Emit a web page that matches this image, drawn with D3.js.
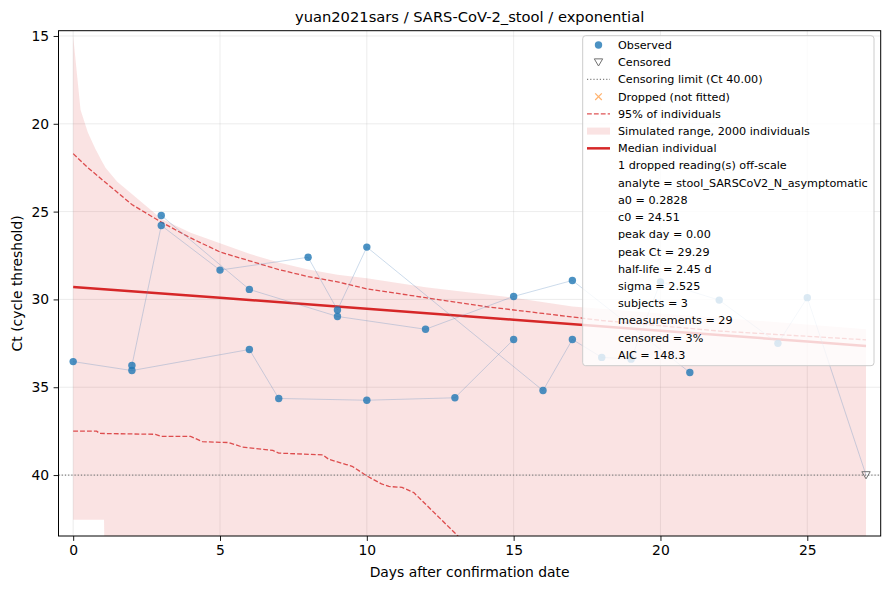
<!DOCTYPE html>
<html>
<head>
<meta charset="utf-8">
<script src="https://cdn.jsdelivr.net/npm/d3@7"></script>
<style>
  body { margin: 0; background: #fff; }
  text { font-family: "DejaVu Sans", sans-serif; fill: #000; }
</style>
</head>
<body>
<script>
// chart values
var subjA_day = [0, 2, 6, 7, 10, 13, 15]
var subjA_ct  = [33.54, 34.05, 32.85, 35.64, 35.74, 35.6, 32.28]
var subjB_day = [2, 3, 5, 8, 9, 10, 16, 17, 18, 19, 20, 22, 24, 25]
var subjB_ct  = [33.76, 25.79, 28.33, 27.6, 30.6, 27.02, 35.19, 32.28, 33.3, 33.4, 29.0, 30.04, 32.5, 29.9]
var subjC_day = [3, 6, 9, 12, 15, 17, 21]
var subjC_ct  = [25.22, 29.43, 30.97, 31.7, 29.83, 28.92, 34.16]
var cens_day  = [27]
var cens_ct   = [40]
var censLimit = 40

// simulated range (upper edge = low Ct, lower edge = high Ct)
var band_day   = [0, 0.25, 0.5, 0.75, 1, 1.05, 1.1, 1.5, 2, 3, 4, 5, 6, 7, 8, 9, 10, 12, 15, 17, 20, 24, 27]
var band_upper = [15.0, 19.2, 20.5, 21.4, 22.2, 22.35, 22.5, 23.3, 24.0, 25.4, 26.2, 26.8, 27.4, 27.9, 28.3, 28.6, 28.8, 29.3, 29.9, 30.4, 30.8, 31.3, 31.7]
var band_lower = [42.55, 42.55, 42.55, 42.55, 42.55, 42.55, 48, 48, 48, 48, 48, 48, 48, 48, 48, 48, 48, 48, 48, 48, 48, 48, 48]

// 95% of individuals
var hi95_day = [0, 0.5, 1, 1.5, 2, 2.5, 3, 4, 5, 6, 7, 8, 9, 10, 12, 14, 16, 18, 20, 22, 24, 27]
var hi95_ct  = [21.7, 22.5, 23.2, 23.9, 24.6, 25.1, 25.6, 26.5, 27.3, 27.8, 28.3, 28.7, 29.0, 29.4, 29.9, 30.4, 30.8, 31.2, 31.5, 31.8, 32.0, 32.3]
var lo95_day = [0, 0.8, 0.9, 2.8, 3.0, 4.0, 4.4, 5.3, 5.75, 6.8, 7.0, 8.5, 8.7, 9.3, 9.5, 10.0, 10.5, 10.75, 11.2, 11.6, 13.0, 14.0]
var lo95_ct  = [37.5, 37.5, 37.63, 37.68, 37.8, 37.8, 38.1, 38.15, 38.4, 38.6, 38.75, 38.85, 39.1, 39.4, 39.5, 40.05, 40.5, 40.65, 40.7, 41.0, 43.3, 45]

// median individual
var med_day = [0, 5, 10, 15, 20, 25, 27]
var med_ct  = [29.29, 29.91, 30.53, 31.16, 31.78, 32.40, 32.65]

var xTicks = [0, 5, 10, 15, 20, 25]
var yTicks = [15, 20, 25, 30, 35, 40]

var legendRows = [
  ["obs", "Observed"],
  ["cens", "Censored"],
  ["limit", "Censoring limit (Ct 40.00)"],
  ["drop", "Dropped (not fitted)"],
  ["dash", "95% of individuals"],
  ["band", "Simulated range, 2000 individuals"],
  ["median", "Median individual"],
  ["", "1 dropped reading(s) off-scale"],
  ["", "analyte = stool_SARSCoV2_N_asymptomatic"],
  ["", "a0 = 0.2828"],
  ["", "c0 = 24.51"],
  ["", "peak day = 0.00"],
  ["", "peak Ct = 29.29"],
  ["", "half-life = 2.45 d"],
  ["", "sigma = 2.525"],
  ["", "subjects = 3"],
  ["", "measurements = 29"],
  ["", "censored = 3%"],
  ["", "AIC = 148.3"]
]

var width = 890
var height = 590
var pLeft = 58.5, pRight = 880.7, pTop = 30.7, pBottom = 536

var red = "#d62728"
var blue = "#1f77b4"

var x = d3.scaleLinear().domain([-0.5, 27.5]).range([pLeft, pRight])
var y = d3.scaleLinear().domain([14.7, 43.47]).range([pTop, pBottom])

var svg = d3.select("body")
  .append("svg")
  .attr("width", width)
  .attr("height", height)

svg.append("defs").append("clipPath")
  .attr("id", "plotclip")
  .append("rect")
  .attr("x", pLeft).attr("y", pTop)
  .attr("width", pRight - pLeft).attr("height", pBottom - pTop)

// grid
var grid = svg.append("g")
grid.selectAll(".gx").data(xTicks).enter().append("line")
  .attr("x1", d => x(d)).attr("x2", d => x(d))
  .attr("y1", pTop).attr("y2", pBottom)
  .style("stroke", "#b0b0b0").style("stroke-opacity", 0.3).style("stroke-width", 0.8)
grid.selectAll(".gy").data(yTicks).enter().append("line")
  .attr("x1", pLeft).attr("x2", pRight)
  .attr("y1", d => y(d)).attr("y2", d => y(d))
  .style("stroke", "#b0b0b0").style("stroke-opacity", 0.3).style("stroke-width", 0.8)

var plot = svg.append("g").attr("clip-path", "url(#plotclip)")

// simulated band
var area = d3.area()
  .x(d => x(d[0]))
  .y0(d => y(d[2]))
  .y1(d => y(d[1]))
plot.append("path")
  .datum(d3.zip(band_day, band_upper, band_lower))
  .attr("d", area)
  .style("fill", red).style("fill-opacity", 0.13)

var line = d3.line().x(d => x(d[0])).y(d => y(d[1]))

// 95% dashed lines
plot.append("path")
  .datum(d3.zip(hi95_day, hi95_ct))
  .attr("d", line)
  .style("fill", "none").style("stroke", red).style("stroke-opacity", 0.8)
  .style("stroke-width", 1.3).style("stroke-dasharray", "4.8,2.1")
plot.append("path")
  .datum(d3.zip(lo95_day, lo95_ct))
  .attr("d", line)
  .style("fill", "none").style("stroke", red).style("stroke-opacity", 0.8)
  .style("stroke-width", 1.3).style("stroke-dasharray", "4.8,2.1")

// median
plot.append("path")
  .datum(d3.zip(med_day, med_ct))
  .attr("d", line)
  .style("fill", "none").style("stroke", red).style("stroke-width", 2.5)

// censoring limit
plot.append("line")
  .attr("x1", pLeft).attr("x2", pRight)
  .attr("y1", y(censLimit)).attr("y2", y(censLimit))
  .style("stroke", "#808080").style("stroke-width", 1.2)
  .style("stroke-dasharray", "1.2,2")

// subject trajectories
var subjects = [
  d3.zip(subjA_day, subjA_ct),
  d3.zip(subjB_day, subjB_ct).concat(d3.zip(cens_day, cens_ct)),
  d3.zip(subjC_day, subjC_ct)
]
plot.selectAll(".traj").data(subjects).enter().append("path")
  .attr("d", line)
  .style("fill", "none").style("stroke", "#5b8cc0").style("stroke-opacity", 0.35)
  .style("stroke-width", 0.9)

var observed = d3.zip(subjA_day, subjA_ct)
  .concat(d3.zip(subjB_day, subjB_ct))
  .concat(d3.zip(subjC_day, subjC_ct))
plot.selectAll(".obs").data(observed).enter().append("circle")
  .attr("cx", d => x(d[0])).attr("cy", d => y(d[1]))
  .attr("r", 3.7)
  .style("fill", blue).style("fill-opacity", 0.8)

function triDown(cx, cy, s) {
  return "M" + (cx - s) + "," + (cy - s * 0.8) + "L" + (cx + s) + "," + (cy - s * 0.8) + "L" + cx + "," + (cy + s * 0.9) + "Z"
}
svg.selectAll(".cens").data(d3.zip(cens_day, cens_ct)).enter().append("path")
  .attr("d", d => triDown(x(d[0]), y(d[1]), 4.2))
  .style("fill", "none").style("stroke", "#707070").style("stroke-width", 1)

// axes frame
svg.append("rect")
  .attr("x", pLeft).attr("y", pTop)
  .attr("width", pRight - pLeft).attr("height", pBottom - pTop)
  .style("fill", "none").style("stroke", "#000").style("stroke-width", 1)

var xAxis = svg.append("g")
  .attr("transform", "translate(0," + pBottom + ")")
  .call(d3.axisBottom(x).tickValues(xTicks).tickSize(4.9).tickPadding(4.5))
var yAxis = svg.append("g")
  .attr("transform", "translate(" + pLeft + ",0)")
  .call(d3.axisLeft(y).tickValues(yTicks).tickSize(4.9).tickPadding(4.5))
xAxis.select(".domain").remove()
yAxis.select(".domain").remove()
svg.selectAll(".tick text").style("font-size", "13.9px").style("font-family", "DejaVu Sans")
svg.selectAll(".tick line").style("stroke-width", 0.9)

svg.append("text")
  .attr("x", (pLeft + pRight) / 2).attr("y", 22)
  .attr("text-anchor", "middle")
  .style("font-size", "14.7px")
  .text("yuan2021sars / SARS-CoV-2_stool / exponential")

svg.append("text")
  .attr("x", (pLeft + pRight) / 2).attr("y", 577)
  .attr("text-anchor", "middle")
  .style("font-size", "13.9px")
  .text("Days after confirmation date")

svg.append("text")
  .attr("transform", "translate(21.5," + ((pTop + pBottom) / 2) + ") rotate(-90)")
  .attr("text-anchor", "middle")
  .style("font-size", "13.9px")
  .text("Ct (cycle threshold)")

// legend
var lg = svg.append("g")
lg.append("rect")
  .attr("x", 582.7).attr("y", 35.7)
  .attr("width", 874 - 582.7).attr("height", 365.7 - 35.7)
  .attr("rx", 3)
  .style("fill", "#fff").style("fill-opacity", 0.8)
  .style("stroke", "#cccccc").style("stroke-width", 1)

var rowY = d3.scaleLinear().domain([0, legendRows.length - 1]).range([45, 355])
var hx0 = 587, hx1 = 610, hxc = 598.5

legendRows.forEach(function(r, i) {
  var cy = rowY(i)
  var kind = r[0]
  if (kind == "obs") {
    lg.append("circle").attr("cx", hxc).attr("cy", cy).attr("r", 3.7)
      .style("fill", blue).style("fill-opacity", 0.8)
  } else if (kind == "cens") {
    lg.append("path").attr("d", triDown(hxc, cy, 4.2))
      .style("fill", "none").style("stroke", "#707070").style("stroke-width", 1)
  } else if (kind == "limit") {
    lg.append("line").attr("x1", hx0).attr("x2", hx1).attr("y1", cy).attr("y2", cy)
      .style("stroke", "#808080").style("stroke-width", 1.2).style("stroke-dasharray", "1.2,2")
  } else if (kind == "drop") {
    lg.append("path")
      .attr("d", "M" + (hxc - 3.3) + "," + (cy - 3.3) + "L" + (hxc + 3.3) + "," + (cy + 3.3) +
                 "M" + (hxc - 3.3) + "," + (cy + 3.3) + "L" + (hxc + 3.3) + "," + (cy - 3.3))
      .style("stroke", "#ff7f0e").style("stroke-opacity", 0.6).style("stroke-width", 1.2)
  } else if (kind == "dash") {
    lg.append("line").attr("x1", hx0).attr("x2", hx1).attr("y1", cy).attr("y2", cy)
      .style("stroke", red).style("stroke-opacity", 0.8).style("stroke-width", 1.3)
      .style("stroke-dasharray", "4.8,2.1")
  } else if (kind == "band") {
    lg.append("rect").attr("x", hx0).attr("y", cy - 3.5).attr("width", hx1 - hx0).attr("height", 7)
      .style("fill", red).style("fill-opacity", 0.13)
  } else if (kind == "median") {
    lg.append("line").attr("x1", hx0).attr("x2", hx1).attr("y1", cy).attr("y2", cy)
      .style("stroke", red).style("stroke-width", 2.5)
  }
  lg.append("text")
    .attr("x", 618).attr("y", cy)
    .attr("dy", "0.35em")
    .style("font-size", "11.2px")
    .text(r[1])
})
</script>
</body>
</html>
